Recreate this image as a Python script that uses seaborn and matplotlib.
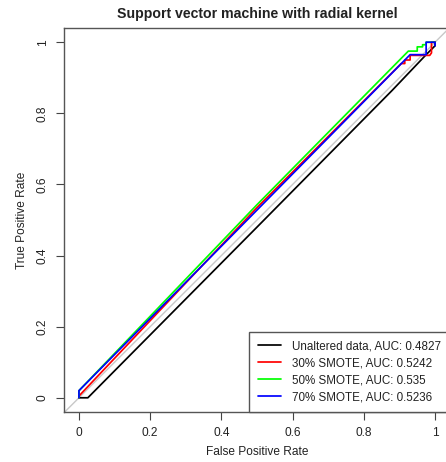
import numpy as np
import pandas as pd
import matplotlib
matplotlib.use("Agg")
import matplotlib.pyplot as plt
import seaborn as sns
from matplotlib.lines import Line2D

# ROC curve points
black_fpr = [0.0, 0.025, 0.50, 0.88, 0.975, 0.995, 1.0, 1.0]
black_tpr = [0.0, 0.0, 0.48, 0.865, 0.965, 0.985, 0.99, 1.0]
red_fpr = [0.0, 0.0, 0.50, 0.905, 0.915, 0.915, 0.93, 0.93, 0.985, 0.99, 0.99, 1.0]
red_tpr = [0.0, 0.005, 0.535, 0.94, 0.94, 0.95, 0.95, 0.963, 0.963, 0.97, 1.0, 1.0]
green_fpr = [0.0, 0.0, 0.50, 0.925, 0.95, 0.95, 0.965, 0.965, 0.975, 0.975, 1.0]
green_tpr = [0.0, 0.02, 0.543, 0.975, 0.975, 0.987, 0.987, 0.993, 0.993, 1.0, 1.0]
blue_fpr = [0.0, 0.0, 0.50, 0.93, 0.975, 0.975, 1.0, 1.0]
blue_tpr = [0.0, 0.02, 0.528, 0.965, 0.965, 1.0, 1.0, 0.99]
series_names = ["Unaltered data, AUC: 0.4827", "30% SMOTE, AUC: 0.5242",
                "50% SMOTE, AUC: 0.535", "70% SMOTE, AUC: 0.5236"]
series_colors = ["#000000", "#FF0000", "#00FF00", "#0000FF"]
ticks = [0, 0.2, 0.4, 0.6, 0.8, 1]
tick_labels = ["0", "0.2", "0.4", "0.6", "0.8", "1"]

sns.set_style("white")
plt.rcParams["font.family"] = ["Liberation Sans", "DejaVu Sans"]

frames = []
for name, fx, ty in zip(series_names,
                        [black_fpr, red_fpr, green_fpr, blue_fpr],
                        [black_tpr, red_tpr, green_tpr, blue_tpr]):
    frames.append(pd.DataFrame({"fpr": fx, "tpr": ty, "series": name,
                                "order": np.arange(len(fx))}))
df = pd.concat(frames, ignore_index=True)

fig = plt.figure(figsize=(4.46, 4.62), dpi=100)
ax = fig.add_axes([64 / 446, 50 / 462, 386 / 446, 384 / 462])

ax.plot([-0.1, 1.2], [-0.1, 1.2], color="#c8c8c8", lw=1.0, zorder=1)

sns.lineplot(data=df, x="fpr", y="tpr", hue="series", hue_order=series_names,
             palette=series_colors, sort=False, estimator=None, units="series",
             lw=1.25, ax=ax, legend=False, zorder=2)

ax.set_xlim(-0.042, 1.042)
ax.set_ylim(-0.04, 1.04)
ax.set_xticks(ticks)
ax.set_xticklabels(tick_labels)
ax.set_yticks(ticks)
ax.set_yticklabels(tick_labels, rotation=90, va="center")
ax.tick_params(axis="both", direction="out", length=6, width=0.8, color="#444444",
               labelsize=8.6, labelcolor="#222222", pad=5,
               bottom=True, left=True)
for s in ax.spines.values():
    s.set_color("#555555")
    s.set_linewidth(1.0)
ax.set_xlabel("False Positive Rate", fontsize=8.6, color="#222222", labelpad=5)
ax.set_ylabel("True Positive Rate", fontsize=8.6, color="#222222", labelpad=6.5)
fig.text(257 / 446, 1 - 14 / 462, "Support vector machine with radial kernel",
         ha="center", va="center", fontsize=10.2, fontweight="bold", color="#222222")

handles = [Line2D([], [], color=c, lw=1.25) for c in series_colors]
leg = ax.legend(handles, series_names, loc="lower right", bbox_to_anchor=(1, 0),
                borderaxespad=0, fancybox=False, framealpha=1, edgecolor="#555555",
                fontsize=8.4, handlelength=2.0, handletextpad=0.95,
                labelspacing=0.42, borderpad=0.75)
leg.get_frame().set_linewidth(1.0)
for t in leg.get_texts():
    t.set_color("#222222")

fig.savefig("out.png", dpi=100)
